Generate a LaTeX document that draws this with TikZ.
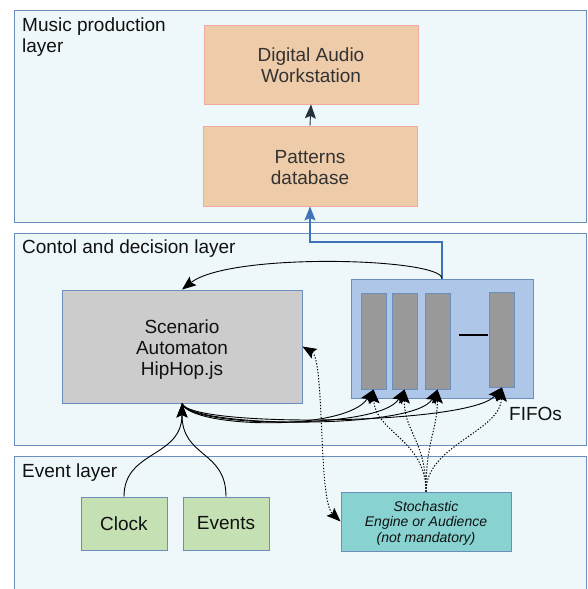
\documentclass[tikz,border=0pt]{standalone}
\usepackage{fontspec}
\setmainfont{Liberation Sans}
\usetikzlibrary{arrows.meta}
\definecolor{lyrfill}{HTML}{EEF7F9}
\definecolor{lyrdraw}{HTML}{6C8EBF}
\definecolor{orfill}{HTML}{EECBA9}
\definecolor{ordraw}{HTML}{F2A9A0}
\definecolor{txtgray}{HTML}{333333}
\definecolor{txtblack}{HTML}{111111}
\definecolor{scenfill}{HTML}{CCCCCC}
\definecolor{fifofill}{HTML}{AEC6E8}
\definecolor{barfill}{HTML}{999999}
\definecolor{greenfill}{HTML}{C5E0B2}
\definecolor{tealfill}{HTML}{88D2D2}
\definecolor{darkarrow}{HTML}{23313A}
\definecolor{bluearrow}{HTML}{3F73B8}
\begin{document}
\begin{tikzpicture}[x=1pt,y=-1pt,
  bigfont/.style={font=\fontsize{19}{21}\selectfont},
  layerbox/.style={draw=lyrdraw, fill=lyrfill, line width=0.9pt, inner sep=0, minimum width=572pt},
  laylabel/.style={bigfont, text=txtblack, anchor=north west, inner sep=0, align=left},
  orbox/.style={draw=ordraw, fill=orfill, line width=0.9pt, text=txtgray, align=center, inner sep=0, bigfont, minimum width=214pt, minimum height=80pt},
  scenbox/.style={draw=lyrdraw, fill=scenfill, line width=0.9pt, text=txtblack, align=center, inner sep=0, bigfont, minimum width=240pt, minimum height=113pt},
  fifobox/.style={draw=lyrdraw, fill=fifofill, line width=0.9pt, inner sep=0, minimum width=182pt, minimum height=119pt},
  barbox/.style={draw=lyrdraw, fill=barfill, line width=0.9pt, inner sep=0, minimum width=25pt, minimum height=96pt},
  greenbox/.style={draw=lyrdraw, fill=greenfill, line width=0.9pt, text=txtblack, inner sep=0, bigfont, minimum width=86pt, minimum height=53pt},
  tealbox/.style={draw=lyrdraw, fill=tealfill, line width=0.9pt, text=txtblack, align=center, inner sep=0, font=\fontsize{14}{15.5}\selectfont\itshape, minimum width=170pt, minimum height=59pt},
  tip/.style={-{Stealth[length=14pt,width=11pt,inset=2.5pt]}},
  conn/.style={tip, line width=0.9pt, black},
  dotconn/.style={tip, line width=1pt, black, dash pattern=on 1.3pt off 1.7pt},
]
\useasboundingbox (0,0) rectangle (587,589);
\clip (0,0) rectangle (587,589);
\fill[white] (0,0) rectangle (587,589);

% layers
\node[layerbox, minimum height=212pt] (music) at (300,116) {};
\node[layerbox, minimum height=212pt] (control) at (300,339) {};
\node[layerbox, minimum height=164pt] (event) at (300,538) {};
\node[laylabel] (musiclbl) at (22,17.5) {Music production\\layer};
\node[laylabel] (controllbl) at (22,240) {Contol and decision layer};
\node[laylabel] (eventlbl) at (22,464) {Event layer};

% music production
\node[orbox, minimum height=79pt] (daw) at (311,64.5) {\rule{0pt}{16pt}Digital Audio\\Workstation};
\node[orbox] (pat) at (310,166) {\rule{0pt}{16pt}Patterns\\database};

% control
\node[scenbox] (scen) at (182,346.5) {\rule{0pt}{20pt}Scenario\\Automaton\\HipHop.js};
\node[fifobox] (fifo) at (442,338.5) {};
\node[barbox] (b1) at (373.5,341) {};
\node[barbox] (b2) at (404.5,341) {};
\node[barbox] (b3) at (437.5,341) {};
\node[barbox, minimum height=95pt] (b4) at (502,339.5) {};
\draw[line width=2pt, black] (459,335) -- (488,335);
\node[bigfont, text=txtblack, anchor=base west, inner sep=0] (fifolbl) at (509,420) {FIFOs};

% event
\node[greenbox] (clock) at (124,523.5) {Clock};
\node[greenbox] (events) at (226,523.5) {Events};
\node[tealbox] (stoch) at (426,521.5) {\rule{0pt}{13.5pt}Stochastic\\Engine or Audience\\(not mandatory)};

% connectors
\draw[tip, line width=0.9pt, darkarrow] (pat.north) -- (daw.south);
\coordinate (bend) at (442,242);
\draw[tip, line width=1.4pt, bluearrow] (fifo.north) -- (bend) -| (pat.south);
\draw[conn] (fifo.north) .. controls (442,258) and (230,252) .. (scen.north);

\draw[conn] (scen.south) .. controls (190,428) and (345,432) .. (b1.south);
\draw[conn] (scen.south) .. controls (190,428) and (380,430) .. (b2.south);
\draw[conn] (scen.south) .. controls (190,428) and (415,430) .. (b3.south);
\draw[conn] (scen.south) .. controls (190,428) and (470,425) .. (b4.south);

\draw[conn] (clock.north) .. controls (124,450) and (182,458) .. (scen.south);
\draw[conn] (events.north) .. controls (226,450) and (182,458) .. (scen.south);

\draw[dotconn] (stoch.north) .. controls (426,440) and (375,432) .. (b1.south);
\draw[dotconn] (stoch.north) .. controls (426,440) and (404,432) .. (b2.south);
\draw[dotconn] (stoch.north) .. controls (426,440) and (437,432) .. (b3.south);
\draw[dotconn] (stoch.north) .. controls (426,445) and (500,432) .. (b4.south);

\draw[dotconn, {Stealth[length=14pt,width=11pt,inset=2.5pt]}-{Stealth[length=14pt,width=11pt,inset=2.5pt]}] (scen.east) .. controls (325,360) and (318,500) .. (stoch.west);
\end{tikzpicture}
\end{document}
